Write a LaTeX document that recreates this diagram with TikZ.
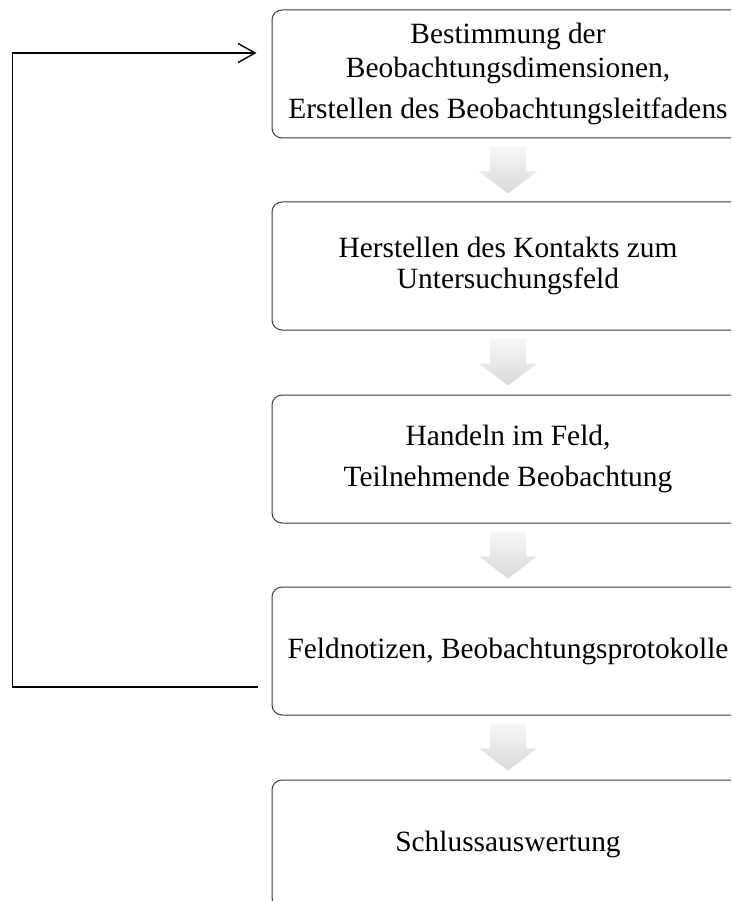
\documentclass[tikz,border=0pt]{standalone}
\usepackage{fontspec}
\setmainfont{Liberation Serif}
\usetikzlibrary{arrows.meta}
\definecolor{boxline}{RGB}{60,60,60}
\definecolor{arrtop}{RGB}{246,246,246}
\definecolor{arrbot}{RGB}{218,218,218}
\tikzset{
  stepbox/.style={draw=boxline, line width=1pt, rounded corners=10pt,
    minimum width=472pt, minimum height=128pt, inner sep=0pt, align=center,
    font=\fontsize{29.4}{34}\selectfont},
  blockarrow/.style={top color=arrtop, bottom color=arrbot, draw=none},
  feedback/.style={draw=black, line width=1.6pt,
    -{Straight Barb[length=17pt,width=19pt,line width=1.4pt]}}
}
\newcommand{\downarrowblock}[1]{%
  \path[blockarrow] ([yshift=-8pt]#1.south) ++(-18,0) -- ++(36,0) -- ++(0,25)
    -- ++(11,0) -- ++(-29,22) -- ++(-29,-22) -- ++(11,0) -- cycle;}
\begin{document}
\begin{tikzpicture}[x=1pt,y=-1pt]
\clip (0,0) rectangle (731,901);
\fill[white] (0,0) rectangle (731,901);
\node[stepbox] (b1) at (508,74) {Bestimmung der\\ Beobachtungsdimensionen,\\[7pt] Erstellen des Beobachtungsleitfadens};
\node[stepbox] (b2) at (508,266) {Herstellen des Kontakts zum\\[-3pt] Untersuchungsfeld};
\node[stepbox] (b3) at (508,459) {Handeln im Feld,\\[7pt] Teilnehmende Beobachtung};
\node[stepbox] (b4) at (508,651) {Feldnotizen, Beobachtungsprotokolle};
\node[stepbox] (b5) at (508,844) {Schlussauswertung};
\downarrowblock{b1}
\downarrowblock{b2}
\downarrowblock{b3}
\downarrowblock{b4}
\draw[feedback] ([xshift=-14pt,yshift=-36pt]b4.west) -- ++(-245,0) |- ([xshift=-15pt,yshift=21pt]b1.west);
\end{tikzpicture}
\end{document}
